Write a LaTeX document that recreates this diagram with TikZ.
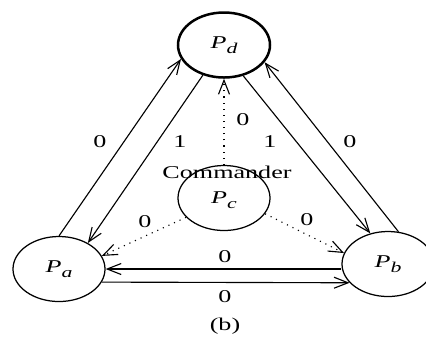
\documentclass[tikz,border=0pt]{standalone}
\usepackage{fontspec}
\setmainfont{Liberation Serif}
\usetikzlibrary{arrows.meta,shapes.geometric}
\newcommand\hstretch[1]{\scalebox{1.45}[1]{#1}}
\newcommand\Plab[1]{\hstretch{\itshape P\raisebox{-2pt}{\fontsize{6}{6}\selectfont #1}}}
\begin{document}
\begin{tikzpicture}[x=0.4pt,y=-0.4pt,
  proc/.style={ellipse,draw,line width=0.5pt,minimum width=36.8pt,minimum height=26pt,inner sep=0pt,font=\fontsize{7.2}{8}\selectfont},
  lab/.style={font=\fontsize{7.2}{8}\selectfont,inner sep=0pt},
  arr/.style={line width=0.45pt,-{Straight Barb[length=5.6pt,width=4.4pt]}},
  dot/.style={arr,dotted}]
\useasboundingbox (0,0) rectangle (426,343);
\node[proc,line width=1pt] (Pd) at (224,45) {\Plab{d}};
\node[proc] (Pc) at (224,198) {};
\node[lab] (Pcl) at (224,200) {\Plab{c}};
\node[proc] (Pa) at (59,269) {\Plab{a}};
\node[proc] (Pb) at (388,264) {\Plab{b}};
\node[lab] (cmd) at (227,172) {\hstretch{Commander}};
% connectors
\draw[arr] (Pa.90) -- (Pd.198);
\draw[arr] (Pd.235) -- (Pa.42);
\draw[arr] (Pd.302) -- (Pb.120);
\draw[arr] (Pb.72) -- (Pd.337);
\draw[arr] (Pa.east -| Pb.west) -- (Pa.east);
\draw[arr] (Pa.343) -- (Pb.206);
\draw[dot] (Pc.north) -- (Pd.south);
\draw[dot] (Pc.207) -- (Pa.17);
\draw[dot] (Pc.339) -- (Pb.166);
% labels
\node[lab] (t1) at (243,120) {\hstretch{0}};
\node[lab] (t2) at (100,142) {\hstretch{0}};
\node[lab] (t3) at (350,142) {\hstretch{0}};
\node[lab] (t4) at (180,142) {\hstretch{1}};
\node[lab] (t5) at (270,142) {\hstretch{1}};
\node[lab] (t6) at (145,222) {\hstretch{0}};
\node[lab] (t7) at (307,220) {\hstretch{0}};
\node[lab] (t8) at (225,257) {\hstretch{0}};
\node[lab] (t9) at (225,297) {\hstretch{0}};
\node[lab] (cap) at (225,326) {\hstretch{(b)}};
\end{tikzpicture}
\end{document}
